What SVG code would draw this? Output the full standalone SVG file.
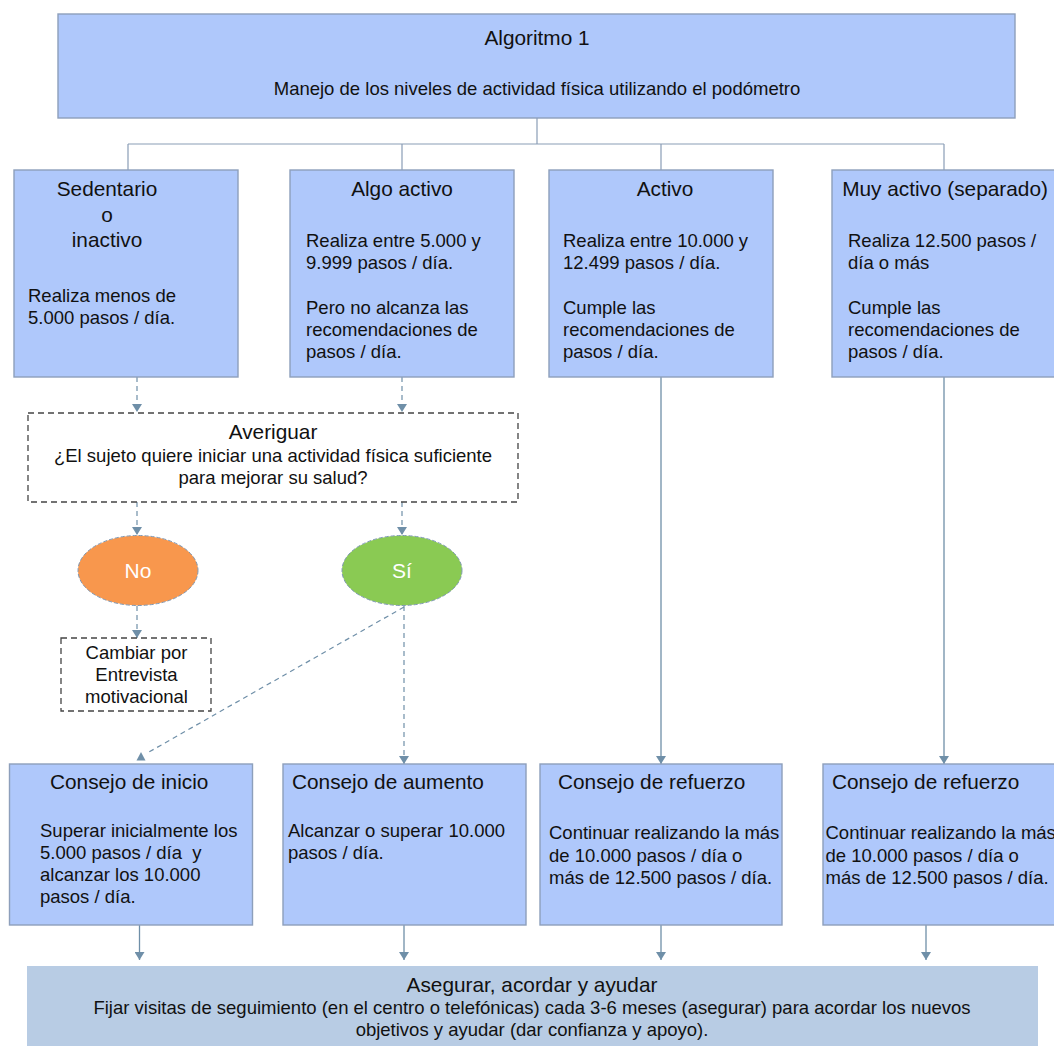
<svg xmlns="http://www.w3.org/2000/svg" width="1054" height="1046" viewBox="0 0 1054 1046">
<defs>
<style>
.box{fill:#afc8fb;stroke:#8d9fbb;stroke-width:1.4}
.dbox{fill:#ffffff;stroke:#444444;stroke-width:1.3;stroke-dasharray:6 4}
.tree{fill:none;stroke:#8a9db6;stroke-width:1.2}
.ln{fill:none;stroke:#6f8fa8;stroke-width:1.3}
.dl{fill:none;stroke:#6f8fa8;stroke-width:1.2;stroke-dasharray:5 4}
.h{font-family:"Liberation Sans",Arial,sans-serif;font-size:20.8px;fill:#111}
.t{font-family:"Liberation Sans",Arial,sans-serif;font-size:18.5px;fill:#111;white-space:pre}
.w{font-family:"Liberation Sans",Arial,sans-serif;font-size:21px;fill:#ffffff}
.c{text-anchor:middle}
</style>
<marker id="ah" markerWidth="10" markerHeight="10" refX="8" refY="5" orient="auto" markerUnits="userSpaceOnUse">
<path d="M0,0 L8,5 L0,10 z" fill="#6f8fa8"/>
</marker>
</defs>
<rect width="1054" height="1046" fill="#ffffff"/>

<g id="connectors">
<path class="tree" d="M537,118 V144 M128,144 H944 M128,144 V170 M402,144 V170 M661,144 V170 M944,144 V170"/>
<line class="dl" x1="137" y1="377" x2="137" y2="412" marker-end="url(#ah)"/>
<line class="dl" x1="402" y1="377" x2="402" y2="412" marker-end="url(#ah)"/>
<line class="dl" x1="137" y1="502" x2="137" y2="535" marker-end="url(#ah)"/>
<line class="dl" x1="402" y1="502" x2="402" y2="535" marker-end="url(#ah)"/>
<line class="dl" x1="137" y1="606" x2="137" y2="638" marker-end="url(#ah)"/>
<line class="dl" x1="404" y1="606" x2="404" y2="764" marker-end="url(#ah)"/>
<line class="dl" x1="404" y1="607" x2="149" y2="752" stroke-dasharray="7 5"/>
<polygon points="141,752 136.5,760.5 145.5,760.5" fill="#6f8fa8"/>
<line class="ln" x1="661" y1="377" x2="661" y2="764" marker-end="url(#ah)"/>
<line class="ln" x1="944" y1="377" x2="944" y2="764" marker-end="url(#ah)"/>
<line class="ln" x1="139.5" y1="925" x2="139.5" y2="960" marker-end="url(#ah)"/>
<line class="ln" x1="404" y1="925" x2="404" y2="960" marker-end="url(#ah)"/>
<line class="ln" x1="661" y1="925" x2="661" y2="960" marker-end="url(#ah)"/>
<line class="ln" x1="926" y1="925" x2="926" y2="960" marker-end="url(#ah)"/>
</g>

<g id="n-top">
<rect class="box" x="58" y="14" width="957" height="104"/>
<text class="h c" x="537" y="45">Algoritmo 1</text>
<text class="t c" x="537" y="95">Manejo de los niveles de actividad física utilizando el podómetro</text>
</g>

<g id="n-sedentario">
<rect class="box" x="14" y="170" width="224" height="207"/>
<text class="h c" x="107" y="196">Sedentario</text>
<text class="h c" x="107" y="222">o</text>
<text class="h c" x="107" y="247">inactivo</text>
<text class="t" x="28" y="302">Realiza menos de</text>
<text class="t" x="28" y="324">5.000 pasos / día.</text>
</g>

<g id="n-algo">
<rect class="box" x="290" y="170" width="224" height="207"/>
<text class="h c" x="402" y="196">Algo activo</text>
<text class="t" x="306" y="247">Realiza entre 5.000 y</text>
<text class="t" x="306" y="269">9.999 pasos / día.</text>
<text class="t" x="306" y="314">Pero no alcanza las</text>
<text class="t" x="306" y="336">recomendaciones de</text>
<text class="t" x="306" y="358">pasos / día.</text>
</g>

<g id="n-activo">
<rect class="box" x="549" y="170" width="224" height="207"/>
<text class="h c" x="665" y="196">Activo</text>
<text class="t" x="563" y="247">Realiza entre 10.000 y</text>
<text class="t" x="563" y="269">12.499 pasos / día.</text>
<text class="t" x="563" y="314">Cumple las</text>
<text class="t" x="563" y="336">recomendaciones de</text>
<text class="t" x="563" y="358">pasos / día.</text>
</g>

<g id="n-muy">
<rect class="box" x="832" y="170" width="230" height="207"/>
<text class="h c" x="945" y="196">Muy activo (separado)</text>
<text class="t" x="848" y="247">Realiza 12.500 pasos /</text>
<text class="t" x="848" y="269">día o más</text>
<text class="t" x="848" y="314">Cumple las</text>
<text class="t" x="848" y="336">recomendaciones de</text>
<text class="t" x="848" y="358">pasos / día.</text>
</g>

<g id="n-averiguar">
<rect class="dbox" x="28" y="413" width="490" height="89"/>
<text class="h c" x="273" y="439">Averiguar</text>
<text class="t c" x="273" y="462">¿El sujeto quiere iniciar una actividad física suficiente</text>
<text class="t c" x="273" y="484">para mejorar su salud?</text>
</g>

<g id="n-no">
<ellipse cx="138" cy="570.5" rx="60" ry="35" fill="#f8974d" stroke="#7f98b4" stroke-width="1" stroke-dasharray="4 2"/>
<text class="w c" x="138" y="578">No</text>
</g>

<g id="n-si">
<ellipse cx="402" cy="570.5" rx="60" ry="35" fill="#8aca53" stroke="#7f98b4" stroke-width="1" stroke-dasharray="4 2"/>
<text class="w c" x="402" y="578">Sí</text>
</g>

<g id="n-cambiar">
<rect class="dbox" x="61" y="638" width="150" height="73"/>
<text class="t c" x="136.5" y="659">Cambiar por</text>
<text class="t c" x="136.5" y="681">Entrevista</text>
<text class="t c" x="136.5" y="703">motivacional</text>
</g>

<g id="n-inicio">
<rect class="box" x="9.5" y="764" width="243" height="161"/>
<text class="h" x="50" y="789">Consejo de inicio</text>
<text class="t" x="40" y="837">Superar inicialmente los</text>
<text class="t" x="40" y="859" xml:space="preserve">5.000 pasos / día  y</text>
<text class="t" x="40" y="881">alcanzar los 10.000</text>
<text class="t" x="40" y="903">pasos / día.</text>
</g>

<g id="n-aumento">
<rect class="box" x="283" y="764" width="243" height="161"/>
<text class="h" x="292" y="789">Consejo de aumento</text>
<text class="t" x="288" y="837">Alcanzar o superar 10.000</text>
<text class="t" x="288" y="859">pasos / día.</text>
</g>

<g id="n-refuerzo1">
<rect class="box" x="540" y="764" width="242" height="161"/>
<text class="h" x="558" y="789">Consejo de refuerzo</text>
<text class="t" x="549" y="839">Continuar realizando la más</text>
<text class="t" x="549" y="861.5">de 10.000 pasos / día o</text>
<text class="t" x="549" y="884">más de 12.500 pasos / día.</text>
</g>

<g id="n-refuerzo2">
<rect class="box" x="823" y="764" width="245" height="161"/>
<text class="h" x="832" y="789">Consejo de refuerzo</text>
<text class="t" x="825.5" y="839">Continuar realizando la más</text>
<text class="t" x="825.5" y="861.5">de 10.000 pasos / día o</text>
<text class="t" x="825.5" y="884">más de 12.500 pasos / día.</text>
</g>

<g id="n-asegurar">
<rect x="27" y="966" width="1011" height="90" fill="#b8cce4"/>
<text class="h c" x="532" y="992">Asegurar, acordar y ayudar</text>
<text class="t c" x="532" y="1014">Fijar visitas de seguimiento (en el centro o telefónicas) cada 3-6 meses (asegurar) para acordar los nuevos</text>
<text class="t c" x="532" y="1036">objetivos y ayudar (dar confianza y apoyo).</text>
</g>
</svg>
